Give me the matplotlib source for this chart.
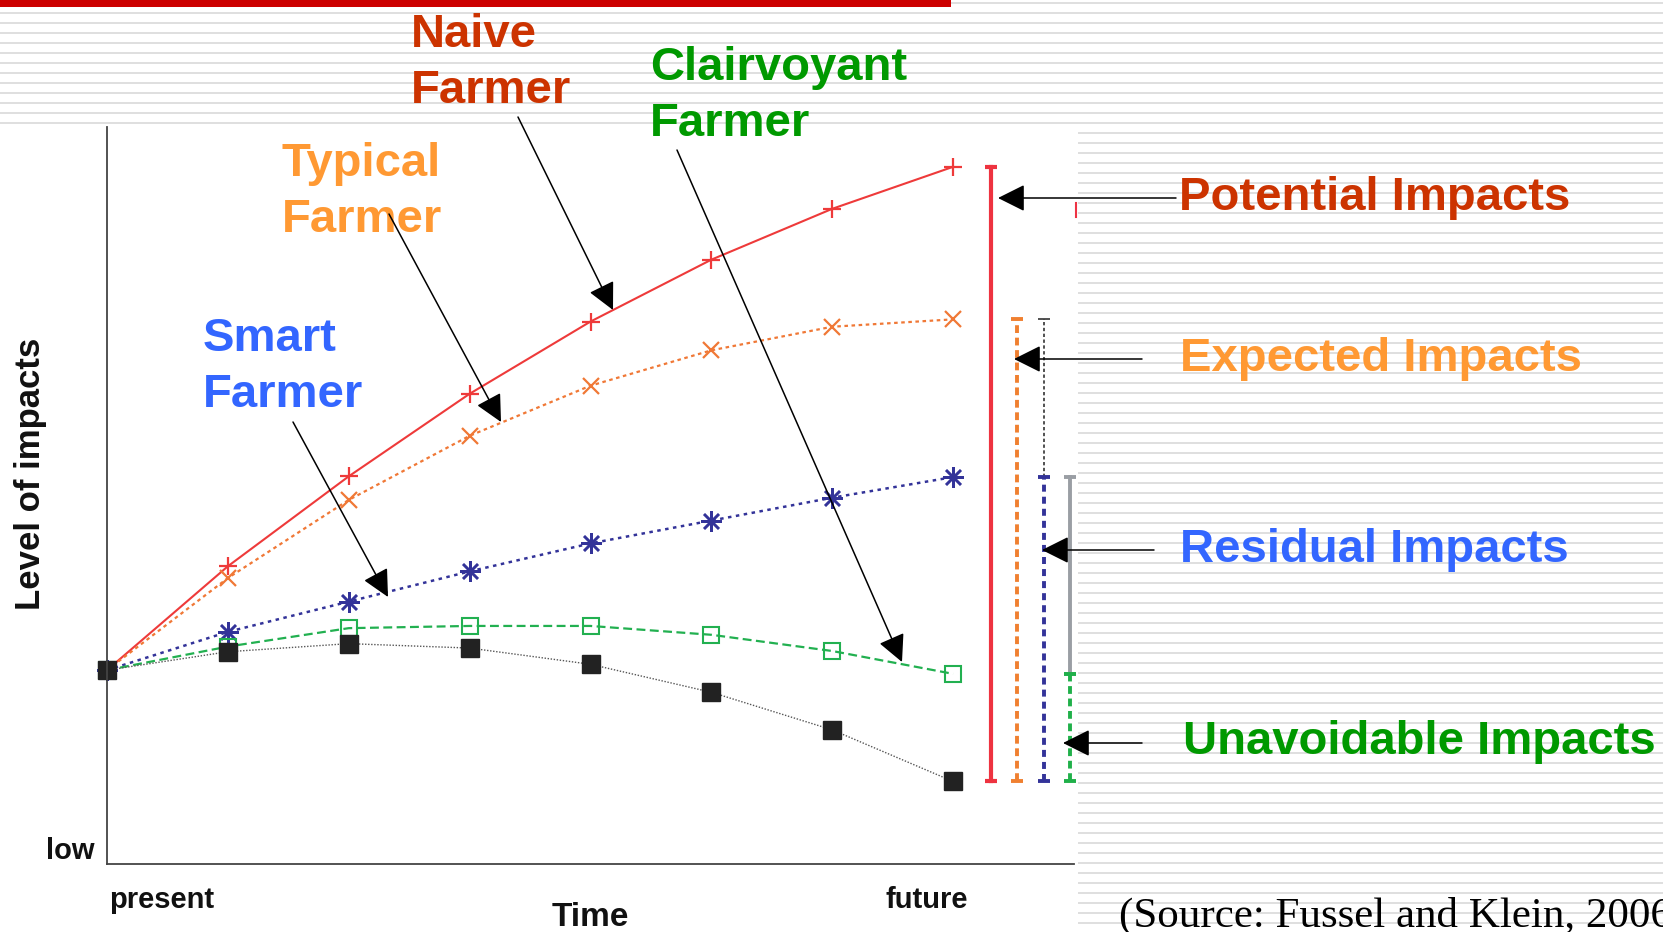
import numpy as np
import matplotlib.pyplot as plt
from matplotlib.patches import Rectangle

# time steps from present (0) to future (7)
steps = np.arange(8)

# level of impacts for each adaptation strategy
naive = [26.3, 40.4, 52.6, 63.8, 73.6, 82.0, 88.9, 94.6]
typical = [26.3, 38.8, 49.4, 58.1, 64.9, 69.7, 72.9, 73.9]
smart = [26.3, 31.5, 35.6, 39.7, 43.5, 46.6, 49.7, 52.5]
clairvoyant = [26.3, 29.5, 32.0, 32.3, 32.3, 31.1, 28.9, 25.8]
unavoidable = [26.3, 28.8, 29.9, 29.3, 27.1, 23.3, 18.2, 11.2]

farmer_labels = ['Naive\nFarmer', 'Typical\nFarmer', 'Smart\nFarmer', 'Clairvoyant\nFarmer']
impact_labels = ['Potential Impacts', 'Expected Impacts', 'Residual Impacts', 'Unavoidable Impacts']

W, H = 1663, 932
fig = plt.figure(figsize=(W / 100, H / 100), dpi=100)
fig.patch.set_facecolor('white')

# slide background: thin grey stripes, white panel, red bar on top
bg = fig.add_axes([0, 0, 1, 1], zorder=0)
bg.set_xlim(0, W)
bg.set_ylim(H, 0)
bg.axis('off')
bg.hlines(np.arange(3, H, 10), 0, W, color='#dcdcdc', lw=1.3, zorder=1)
bg.add_patch(Rectangle((0, 125), 1078, H - 125, color='white', lw=0, zorder=3))
bg.add_patch(Rectangle((0, 0), 951, 7, color='#cc0000', lw=0, zorder=3))
bg.plot([1076, 1076], [203, 217], color='#ee3344', lw=1.5, zorder=4)

# chart axes
ax = fig.add_axes([107 / W, (H - 864) / H, 967 / W, 737 / H], zorder=1)
ax.set_facecolor('none')
ax.set_xlim(0, 8)
ax.set_ylim(0, 100)
for side in ['top', 'right']:
    ax.spines[side].set_visible(False)
for side in ['left', 'bottom']:
    ax.spines[side].set_color('#444444')
    ax.spines[side].set_linewidth(1.3)
ax.set_xticks([])
ax.set_yticks([])

ax.plot(steps, naive, color='#ee3a3a', lw=1.5, marker='+', ms=13, mew=1.6, clip_on=False)
ax.plot(steps, typical, color='#f07836', lw=1.6, ls=(0, (1.6, 1.6)), marker='x', ms=12, mew=1.6,
        clip_on=False)
ax.plot(steps, smart, color='#333399', lw=1.8, ls=(0, (1.4, 1.8)), marker=(8, 2, 0), ms=15, mew=1.8,
        clip_on=False)
ax.plot(steps, clairvoyant, color='#22b050', lw=1.6, ls=(0, (4, 2)), marker='s', ms=11,
        mfc='none', mec='#22b050', mew=1.5, clip_on=False)
ax.plot(steps, unavoidable, color='#555555', lw=1.0, ls=(0, (1, 1.2)), marker='s', ms=13,
        mfc='#222222', mec='#222222', clip_on=False)


# impact ranges at the end of the time horizon
def range_bar(x, lo, hi, color, lw, ls='-'):
    ax.plot([x, x], [lo, hi], color=color, lw=lw, ls=ls, clip_on=False)
    ax.plot([x, x], [lo, hi], ls='none', marker='_', ms=9, mew=lw, color=color, clip_on=False)


range_bar(7.316, unavoidable[-1], naive[-1], '#ee3340', 3)
range_bar(7.53, unavoidable[-1], typical[-1], '#f08030', 2.8, (0, (2, 1.2)))
range_bar(7.75, smart[-1], typical[-1], '#333333', 1.2, (0, (2, 1.5)))
range_bar(7.75, unavoidable[-1], smart[-1], '#333399', 2.8, (0, (1.8, 1.3)))
range_bar(7.97, clairvoyant[-1], smart[-1], '#9a9ea4', 2.8)
range_bar(7.97, unavoidable[-1], clairvoyant[-1], '#20b04a', 2.8, (0, (2, 1.2)))

# text and arrows in pixel space
ov = fig.add_axes([0, 0, 1, 1], zorder=2)
ov.set_xlim(0, W)
ov.set_ylim(H, 0)
ov.axis('off')

font = 'Liberation Sans'
arrow = dict(arrowstyle='-|>,head_length=0.4,head_width=0.2', mutation_scale=42,
             color='black', lw=1.1, shrinkA=0, shrinkB=0)

farmer_colors = ['#cc3300', '#ff9933', '#3366ff', '#009900']
# baseline of the second line ("Farmer")
farmer_pos = [(411, 103), (282, 232), (203, 407), (650, 136)]
farmer_arrows = [((518, 117), (613, 310)), ((389, 214), (501, 422)),
                 ((293, 422), (388, 597)), ((677, 150), (902, 662))]
for label, col, (x, y), (start, tip) in zip(farmer_labels, farmer_colors, farmer_pos, farmer_arrows):
    ov.text(x, y, label, color=col, fontsize=34, fontweight='bold', family=font,
            ha='left', va='baseline', linespacing=1.36)
    ov.annotate('', xy=tip, xytext=start, arrowprops=arrow)

impact_colors = ['#cc3300', '#ff9933', '#3366ff', '#009900']
impact_pos = [(1179, 210), (1180, 371), (1180, 562), (1183, 754)]
impact_arrows = [((1176, 198), (998, 198)), ((1142, 359), (1014, 359)),
                 ((1154, 550), (1042, 550)), ((1142, 743), (1063, 743))]
for label, col, (x, y), (start, tip) in zip(impact_labels, impact_colors, impact_pos, impact_arrows):
    ov.text(x, y, label, color=col, fontsize=34, fontweight='bold', family=font,
            ha='left', va='baseline')
    ov.annotate('', xy=tip, xytext=start, arrowprops=arrow)

# axis wording
ov.text(31, 474, 'Level of impacts', rotation=90, fontsize=25, fontweight='bold', family=font,
        ha='center', va='center', color='#111111')
ov.text(46, 859, 'low', fontsize=21, fontweight='bold', family=font, ha='left', va='baseline', color='#111111')
ov.text(109, 908, 'present', fontsize=21, fontweight='bold', family=font, ha='left', va='baseline', color='#111111')
ov.text(590, 926, 'Time', fontsize=24, fontweight='bold', family=font, ha='center', va='baseline', color='#111111')
ov.text(968, 908, 'future', fontsize=21, fontweight='bold', family=font, ha='right', va='baseline', color='#111111')

ov.text(1119, 927, '(Source: Fussel and Klein, 2006)', fontsize=31, family='Liberation Serif',
        ha='left', va='baseline', color='black')

fig.savefig('out.png', dpi=100)
